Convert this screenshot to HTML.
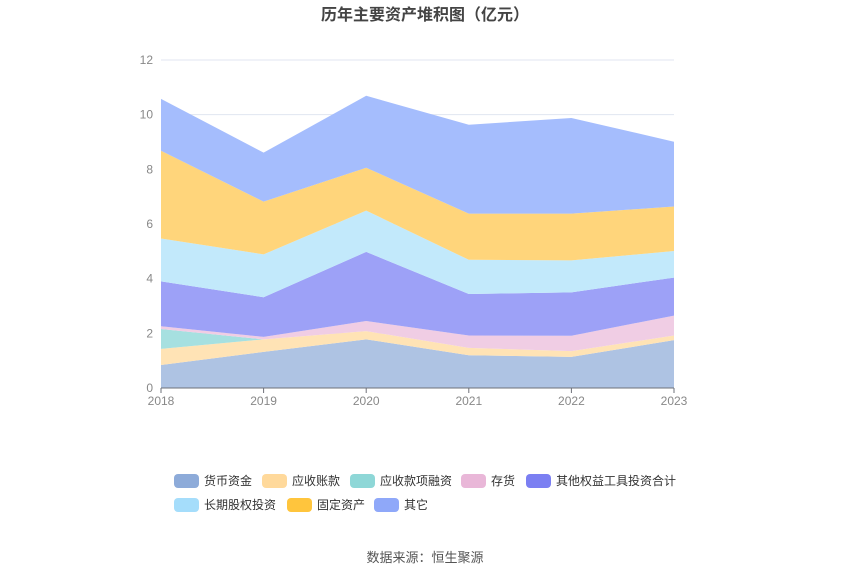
<!DOCTYPE html>
<html><head><meta charset="utf-8"><style>
body{margin:0;background:#fff;width:850px;height:574px;overflow:hidden;font-family:"Liberation Sans","Noto Sans CJK SC",sans-serif}
</style></head><body>
<svg id="chart" width="850" height="574" xmlns="http://www.w3.org/2000/svg">
<text x="425" y="20" text-anchor="middle" font-size="16" font-weight="bold" fill="#444" font-family="Liberation Sans, Noto Sans CJK SC, sans-serif">历年主要资产堆积图（亿元）</text>
<g id="grid"></g><g id="areas"></g><g id="axes"></g><g id="legend"></g>
<text x="425" y="562" text-anchor="middle" font-size="13" fill="#555" font-family="Liberation Sans, Noto Sans CJK SC, sans-serif">数据来源：恒生聚源</text>
</svg>
<script>
const years=["2018","2019","2020","2021","2022","2023"];
const yTicks=[0,2,4,6,8,10,12];
const seriesNames=["其它","固定资产","长期股权投资","其他权益工具投资合计","存货","应收款项融资","应收账款","货币资金"];
const other=[0.84,1.32,1.78,1.20,1.14,1.75];
const fixedAssets=[0.59,0.46,0.30,0.27,0.21,0.17];
const ltEquity=[0.73,0,0,0,0,0];
const otherEquity=[0.10,0.09,0.37,0.45,0.56,0.73];
const inventory=[1.64,1.45,2.53,1.52,1.59,1.39];
const recvFin=[1.57,1.57,1.51,1.25,1.17,0.97];
const receivables=[3.21,1.93,1.57,1.69,1.71,1.63];
const cash=[1.90,1.79,2.63,3.25,3.50,2.37];
const seriesData=[other,fixedAssets,ltEquity,otherEquity,inventory,recvFin,receivables,cash];
const fills=["#aec3e3","#ffe3b5","#a6e0e0","#f0cde4","#9da1f7","#c2e9fb","#ffd57b","#a5bdfd"];
const legendColors=["#8fa8f9","#ffc53d","#a5ddfb","#7b7ff2","#e9b7d8","#8ed7d7","#ffd99b","#8dabd9"];
const legendOrder=[7,6,5,4,3,2,1,0];
const NS="http://www.w3.org/2000/svg";
const x0=161,x1=674,yTop=60,yBot=388,yMax=12;
const xs=i=>x0+(x1-x0)*i/(years.length-1);
const ys=v=>yBot-(yBot-yTop)*v/yMax;
function mk(t,a,p){const e=document.createElementNS(NS,t);for(const k in a)e.setAttribute(k,a[k]);p.appendChild(e);return e;}
const grid=document.getElementById('grid'),axes=document.getElementById('axes'),areas=document.getElementById('areas'),legend=document.getElementById('legend');
yTicks.forEach(t=>{
 const l=mk('line',{x1:x0,x2:x1,y1:ys(t),y2:ys(t),stroke:'#e0e6f1'},grid);
 
 const tx=mk('text',{x:153,y:ys(t)+4,'text-anchor':'end','font-size':12,fill:'#888'},axes);
 tx.textContent=t;
});
let base=years.map(()=>0);
seriesData.forEach((s,si)=>{
 const top=base.map((b,i)=>b+s[i]);
 let d='';
 top.forEach((v,i)=>{d+=(i?'L':'M')+xs(i)+','+ys(v);});
 for(let i=years.length-1;i>=0;i--)d+='L'+xs(i)+','+ys(base[i]);
 const p=mk('path',{d:d+'Z',fill:fills[si]},areas);
 
 base=top;
});
const ax=mk('line',{x1:x0,x2:x1,y1:yBot,y2:yBot,stroke:'#6e7079'},axes);

years.forEach((y,i)=>{
 const tk=mk('line',{x1:xs(i),x2:xs(i),y1:yBot,y2:yBot+5,stroke:'#6e7079'},axes);
 
 const t=mk('text',{x:xs(i),y:yBot+17,'text-anchor':'middle','font-size':12,fill:'#888'},axes);
 t.textContent=y;
});
const legPos=[[174,481],[262,481],[350,481],[461,481],[526,481],[174,505],[287,505],[374,505]];
legendOrder.forEach((si,k)=>{
 const g=mk('g',{},legend);
 
 const [lx,ly]=legPos[k];
 mk('rect',{x:lx,y:ly-7,width:25,height:14,rx:4,fill:legendColors[si]},g);
 const t=mk('text',{x:lx+30,y:ly+4,'font-size':12,fill:'#333'},g);
 t.textContent=seriesNames[si];
});
</script>
</body></html>
